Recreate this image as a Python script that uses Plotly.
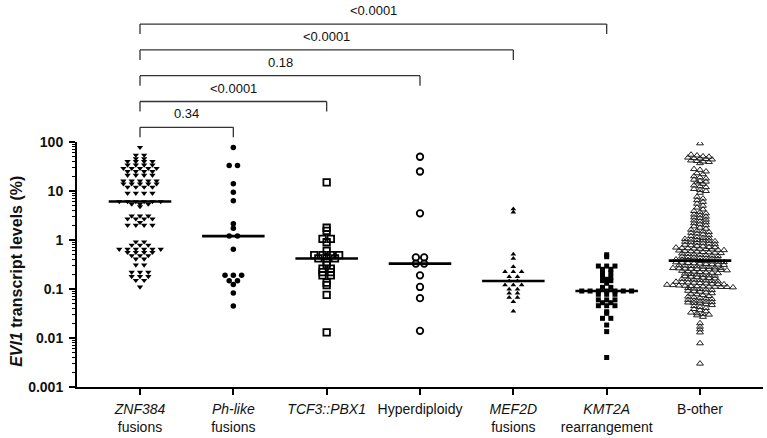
import numpy as np
import plotly.graph_objects as go

# ---------------- data ----------------
CATEGORIES = [
    "<i>ZNF384</i><br>fusions",
    "<i>Ph-like</i><br>fusions",
    "<i>TCF3::PBX1</i>",
    "Hyperdiploidy",
    "<i>MEF2D</i><br>fusions",
    "<i>KMT2A</i><br>rearrangement",
    "B-other",
]

ZNF384 = [78, 54, 54, 46, 46, 40, 40, 40, 40, 34, 34, 34, 34, 29, 29, 29, 29, 29,
          25, 25, 25, 25, 21, 21, 21, 21, 16, 16, 16, 16, 16, 14, 14, 14, 14, 14,
          12, 12, 12, 12, 9.0, 9.0, 9.0, 9.0, 6.1, 6.1, 6.1, 6.1, 6.1, 6.1,
          5.4, 5.4, 5.4, 4.8, 3.1, 3.1, 3.1, 2.7, 2.7, 2.7, 2.7, 2.3, 2.0, 2.0,
          2.0, 2.0, 0.92, 0.92, 0.79, 0.79, 0.79, 0.65, 0.65, 0.65, 0.65, 0.65,
          0.65, 0.56, 0.56, 0.56, 0.56, 0.48, 0.48, 0.48, 0.41, 0.41, 0.31, 0.31,
          0.22, 0.22, 0.22, 0.18, 0.18, 0.18, 0.15, 0.15, 0.11]

PH_LIKE = [77, 33, 33, 14, 9.4, 6.3, 2.15, 1.73, 1.2, 1.2, 0.65, 0.19, 0.19, 0.19,
           0.148, 0.148, 0.123, 0.083, 0.045]

TCF3_PBX1 = [15, 1.78, 1.53, 1.05, 1.05, 0.90, 0.60, 0.49, 0.49, 0.49, 0.49, 0.42,
             0.42, 0.42, 0.35, 0.31, 0.26, 0.26, 0.22, 0.22, 0.19, 0.19, 0.135,
             0.12, 0.076, 0.013]

HYPERDIPLOIDY = [50, 25, 3.5, 0.44, 0.44, 0.33, 0.33, 0.19, 0.11, 0.065, 0.014]

MEF2D = [4.3, 3.7, 0.51, 0.42, 0.285, 0.225, 0.225, 0.225, 0.178, 0.178, 0.146,
         0.146, 0.12, 0.12, 0.12, 0.099, 0.099, 0.082, 0.082, 0.067, 0.067, 0.055,
         0.035]

KMT2A = [0.50, 0.456, 0.294, 0.294, 0.294, 0.252, 0.252, 0.215, 0.215, 0.173, 0.173,
         0.158, 0.148, 0.148, 0.131, 0.108, 0.108, 0.091, 0.091, 0.091, 0.091, 0.091,
         0.091, 0.091, 0.078, 0.078, 0.078, 0.060, 0.060, 0.060, 0.0525, 0.0525,
         0.0456, 0.0456, 0.0456, 0.0344, 0.0319, 0.0252, 0.0252, 0.0184, 0.0135,
         0.0040]

B_OTHER = [94,
           55, 53, 51, 50, 48, 47, 46, 45, 44, 42, 41, 40, 39, 37,
           28, 27, 25, 23, 22, 20, 19, 18, 17, 16, 15.5, 15, 14, 13, 12.5, 12, 11,
           10.5, 10, 9.2,
           7.6, 7.0, 6.5, 6.0, 5.5, 5.0, 4.6, 4.2,
           3.9, 3.7, 3.5, 3.3, 3.2, 3.0, 2.9, 2.8, 2.6, 2.5, 2.4, 2.3, 2.2, 2.1, 2.0,
           1.9,
           1.78, 1.7, 1.62, 1.55, 1.5, 1.45, 1.4, 1.35, 1.3, 1.25, 1.2, 1.15,
           1.1, 1.08, 1.05, 1.02, 1.0, 0.98, 0.96, 0.94, 0.92, 0.9, 0.88, 0.86, 0.84,
           0.82, 0.8, 0.78, 0.76, 0.74, 0.72, 0.71, 0.7, 0.69, 0.68, 0.67, 0.66, 0.65,
           0.64, 0.63, 0.62, 0.61,
           0.6, 0.59, 0.58, 0.57, 0.56, 0.55, 0.54, 0.53, 0.52, 0.51, 0.5, 0.49, 0.48,
           0.47, 0.46, 0.45, 0.44, 0.43, 0.42, 0.415, 0.41, 0.40, 0.395, 0.39, 0.385,
           0.375, 0.37, 0.365, 0.36, 0.355, 0.35, 0.345, 0.34, 0.335, 0.33, 0.325,
           0.32, 0.315, 0.31, 0.305, 0.3, 0.295, 0.29, 0.285, 0.28, 0.275, 0.27,
           0.267, 0.264, 0.261, 0.258, 0.256, 0.254, 0.252, 0.25,
           0.245, 0.24, 0.235, 0.23, 0.226, 0.222, 0.218, 0.214, 0.21, 0.206, 0.202,
           0.198, 0.194, 0.19, 0.186, 0.182, 0.178, 0.174, 0.17, 0.167, 0.164, 0.161,
           0.158, 0.155, 0.152, 0.149, 0.146, 0.143, 0.14, 0.138, 0.136, 0.134, 0.132,
           0.13, 0.128, 0.126, 0.124, 0.122, 0.12, 0.118, 0.116, 0.115, 0.114, 0.113,
           0.112, 0.111, 0.11, 0.11,
           0.108, 0.105, 0.102, 0.1, 0.098, 0.095, 0.092, 0.09, 0.088, 0.085, 0.082,
           0.08, 0.078, 0.075, 0.072, 0.07, 0.068, 0.066, 0.064, 0.062, 0.06, 0.058,
           0.056, 0.055, 0.054, 0.053, 0.052, 0.051,
           0.049, 0.047, 0.045, 0.043, 0.041, 0.039, 0.037, 0.035, 0.033, 0.032, 0.031,
           0.03, 0.029, 0.027,
           0.02, 0.017, 0.015, 0.013, 0.0078, 0.003]

GROUPS = [ZNF384, PH_LIKE, TCF3_PBX1, HYPERDIPLOIDY, MEF2D, KMT2A, B_OTHER]

# comparisons: ZNF384 (index 0) vs each other group, with p-values
COMPARE_WITH = [1, 2, 3, 4, 5]
P_VALUES = ["0.34", "<0.0001", "0.18", "<0.0001", "<0.0001"]

Y_TICKS = [0.001, 0.01, 0.1, 1, 10, 100]
Y_TICK_TEXT = ["0.001", "0.01", "0.1", "1", "10", "100"]

# ---------------- styling / layout ----------------
W, H = 767, 438
ML, MR, MT, MB = 77, 4, 142, 51
PW, PH = W - ML - MR, H - MT - MB
XR = [-0.675, 6.675]
YR = [-3, 2]
PX_PER_UNIT = PW / (XR[1] - XR[0])
PX_PER_DEC = PH / (YR[1] - YR[0])

STYLES = [
    dict(symbol="triangle-down", size=5.5, color="black", line=dict(width=0)),
    dict(symbol="circle", size=5.5, color="black", line=dict(width=0)),
    dict(symbol="square-open", size=6.5, color="black", line=dict(width=1.8)),
    dict(symbol="circle-open", size=6.5, color="black", line=dict(width=1.8)),
    dict(symbol="triangle-up", size=5, color="black", line=dict(width=0)),
    dict(symbol="square", size=5, color="black", line=dict(width=0)),
    dict(symbol="triangle-up-open", size=6, color="#222", line=dict(width=1)),
]
STEP_PX = [8.3, 8.3, 8.3, 8.3, 8.3, 8.3, 6.0]
ROW_TOL = [1.0, 1.0, 1.0, 1.0, 1.0, 1.0, 2.6]


def swarm_offsets(vals, step_px, tol_px):
    ypx = np.log10(np.asarray(vals, float)) * PX_PER_DEC
    order = np.argsort(-ypx, kind="stable")
    rows, cur, start = [], [], None
    for i in order:
        if cur and start - ypx[i] > tol_px:
            rows.append(cur)
            cur = []
        if not cur:
            start = ypx[i]
        cur.append(i)
    if cur:
        rows.append(cur)
    off = np.zeros(len(vals))
    for r in rows:
        n = len(r)
        for k, i in enumerate(r):
            off[i] = (k - (n - 1) / 2) * step_px
    return off / PX_PER_UNIT


fig = go.Figure()
for gi, vals in enumerate(GROUPS):
    xs = gi + swarm_offsets(vals, STEP_PX[gi], ROW_TOL[gi])
    fig.add_trace(go.Scatter(x=xs, y=vals, mode="markers", marker=STYLES[gi],
                             showlegend=False, hoverinfo="y"))

# median lines
for gi, vals in enumerate(GROUPS):
    med = float(np.median(vals))
    fig.add_trace(go.Scatter(x=[gi - 0.335, gi + 0.335], y=[med, med], mode="lines",
                             line=dict(color="black", width=2.6), showlegend=False,
                             hoverinfo="skip"))

# significance brackets
FONT = "Arial, Liberation Sans, Helvetica, sans-serif"
shapes, annotations = [], []
for k, (j, p) in enumerate(zip(COMPARE_WITH, P_VALUES)):
    y_line = 1 + (14.7 + k * 25.8) / PH
    y_leg = y_line - 10 / PH
    lc = dict(color="#333", width=1.3)
    shapes.append(dict(type="line", xref="x", yref="paper", x0=0, x1=j,
                       y0=y_line, y1=y_line, line=lc))
    shapes.append(dict(type="line", xref="x", yref="paper", x0=0, x1=0,
                       y0=y_leg, y1=y_line, line=lc))
    shapes.append(dict(type="line", xref="x", yref="paper", x0=j, x1=j,
                       y0=y_leg, y1=y_line, line=lc))
    annotations.append(dict(x=j / 2, y=y_line + 13.5 / PH, xref="x", yref="paper",
                            text=p, showarrow=False, xanchor="center", yanchor="middle",
                            font=dict(family=FONT, size=13, color="#111")))

annotations.append(dict(x=(17 - ML) / PW, y=0.47, xref="paper", yref="paper",
                        text="<b><i>EVI1</i> transcript levels (%)</b>", textangle=-90,
                        showarrow=False, xanchor="center", yanchor="middle",
                        font=dict(family=FONT, size=16, color="#111")))

minor_vals = [m * 10.0 ** e for e in range(-3, 2) for m in range(2, 10)]

fig.update_layout(
    width=W, height=H,
    margin=dict(l=ML, r=MR, t=MT, b=MB, pad=0),
    paper_bgcolor="white", plot_bgcolor="white",
    font=dict(family=FONT, color="#111"),
    shapes=shapes, annotations=annotations,
    xaxis=dict(range=XR, tickmode="array", tickvals=list(range(len(CATEGORIES))),
               ticktext=CATEGORIES, showline=True, linecolor="black", linewidth=2,
               ticks="outside", ticklen=6, tickwidth=2, tickcolor="black",
               showgrid=False, zeroline=False, tickfont=dict(size=14, family=FONT),
               ticklabelstandoff=2),
    yaxis=dict(type="log", range=YR, tickmode="array", tickvals=Y_TICKS,
               ticktext=["<b>%s</b>" % t for t in Y_TICK_TEXT],
               showline=True, linecolor="black", linewidth=2,
               ticks="outside", ticklen=6, tickwidth=1.5, tickcolor="black",
               showgrid=False, zeroline=False, tickfont=dict(size=14, family=FONT),
               ticklabelstandoff=3,
               minor=dict(tickmode="array", tickvals=minor_vals, ticks="outside",
                          ticklen=3, tickwidth=1, tickcolor="black", showgrid=False)),
)

fig.write_html("out.html")
